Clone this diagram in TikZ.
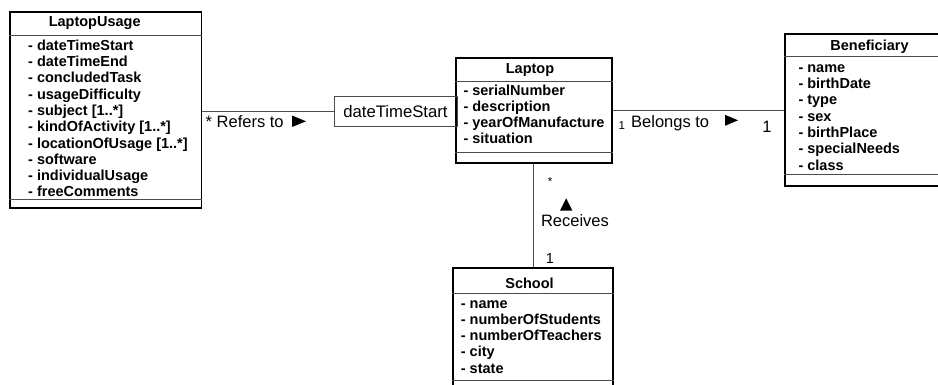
\documentclass[tikz,border=0pt]{standalone}
\usepackage{fontspec}
\setmainfont{Liberation Sans}
\tikzset{
  x=1pt, y=-1pt,
  classbox/.style={draw=black, line width=1.8pt, inner sep=0pt, fill=white},
  sepline/.style={draw=black!70, line width=0.9pt},
  conn/.style={draw=black!70, line width=1pt},
  assocbox/.style={draw=black!70, line width=1pt, inner sep=0pt, font=\fontsize{16.7}{19}\selectfont},
  attr/.style={anchor=base west, inner sep=0pt, font=\fontsize{14.5}{16}\selectfont\bfseries},
  ctitle/.style={inner sep=0pt, font=\fontsize{14.5}{16}\selectfont\bfseries},
  lbl/.style={inner sep=0pt, font=\fontsize{16.5}{19}\selectfont},
  small/.style={inner sep=0pt, font=\fontsize{11.5}{13}\selectfont},
  tri/.style={fill=black}
}
\begin{document}
\begin{tikzpicture}
\clip (0,0) rectangle (938,384);
\fill[white] (0,0) rectangle (938,384);

% ---------- LaptopUsage ----------
\node[classbox, minimum width=191.5pt, minimum height=196.3pt] (lu) at (105.75,109.85) {};
\draw[sepline] (lu.west |- 0,35) -- (lu.east |- 0,35);
\draw[sepline] (lu.west |- 0,199) -- (lu.east |- 0,199);
\node[ctitle] (lut) at (94.7,23.2) {LaptopUsage};
\foreach \t [count=\i from 0] in {{dateTimeStart},{dateTimeEnd},{concludedTask},{usageDifficulty},{subject [1..*]},{kindOfActivity [1..*]},{locationOfUsage [1..*]},{software},{individualUsage},{freeComments}}
  \node[attr] (lua\i) at (28,{50.2+16.3*\i}) {- \t};

% ---------- Laptop ----------
\node[classbox, minimum width=155.7pt, minimum height=105.3pt] (lap) at (533.85,110.35) {};
\draw[sepline] (lap.west |- 0,81.7) -- (lap.east |- 0,81.7);
\draw[sepline] (lap.west |- 0,152.7) -- (lap.east |- 0,152.7);
\node[ctitle] (lapt) at (530,70) {Laptop};
\foreach \t [count=\i from 0] in {{serialNumber},{description},{yearOfManufacture},{situation}}
  \node[attr] (lapa\i) at (463.3,{95.2+16.1*\i}) {- \t};

% ---------- Beneficiary ----------
\node[classbox, minimum width=160pt, minimum height=152pt] (ben) at (865,110) {};
\draw[sepline] (ben.west |- 0,56.7) -- (ben.east |- 0,56.7);
\draw[sepline] (ben.west |- 0,174) -- (ben.east |- 0,174);
\node[ctitle] (bent) at (869.5,46.5) {Beneficiary};
\foreach \t [count=\i from 0] in {{name},{birthDate},{type},{sex},{birthPlace},{specialNeeds},{class}}
  \node[attr] (bena\i) at (798.3,{72.2+16.3*\i}) {- \t};

% ---------- School ----------
\node[classbox, minimum width=160pt, minimum height=127pt] (sch) at (533,331.5) {};
\draw[sepline] (sch.west |- 0,293) -- (sch.east |- 0,293);
\draw[sepline] (sch.west |- 0,380.7) -- (sch.east |- 0,380.7);
\node[ctitle] (scht) at (529.5,283) {School};
\foreach \t [count=\i from 0] in {{name},{numberOfStudents},{numberOfTeachers},{city},{state}}
  \node[attr] (scha\i) at (460.7,{308.2+16.25*\i}) {- \t};

% ---------- association class ----------
\node[assocbox, minimum width=123pt, minimum height=30.7pt] (dts) at (395.5,111.35) {dateTimeStart};

% ---------- connectors ----------
\draw[conn] (lu.east |- dts.west) -- (dts.west);
\draw[conn] (lap.east |- 0,110.7) -- (ben.west |- 0,110.7);
\draw[conn] (lap.south) -- (lap.south |- sch.north);

% ---------- labels ----------
\node[lbl, anchor=west] (refers) at (205.5,121.7) {* Refers to};
\fill[tri] (292,115.5) -- (306,121.3) -- (292,127) -- cycle;

\node[small, anchor=west] (m1) at (618.5,125.5) {1};
\node[lbl, anchor=west] (belongs) at (631,123.5) {Belongs to};
\fill[tri] (725,114.8) -- (738,120.3) -- (725,125.8) -- cycle;
\node[lbl] (m2) at (767,127) {1};

\node[small] (m3) at (550,182) {*};
\fill[tri] (560,210.7) -- (566.2,198.3) -- (572.4,210.7) -- cycle;
\node[lbl] (rec) at (575,221) {Receives};
\node[lbl, font=\fontsize{14.5}{16}\selectfont] (m4) at (550,258.5) {1};
\end{tikzpicture}
\end{document}
